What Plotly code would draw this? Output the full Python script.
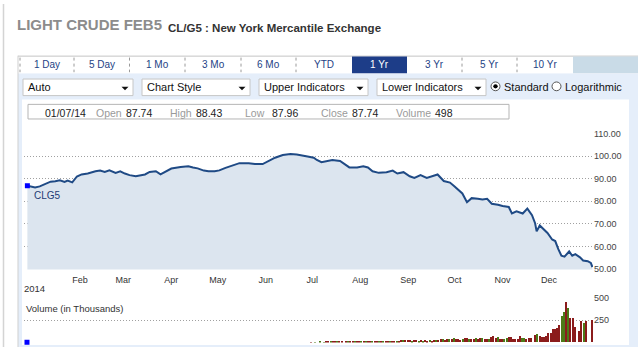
import plotly.graph_objects as go
import pandas as pd

# ---------------- data ----------------
# price series: day offset from 2014-01-01, settlement price
price_day = [-3, -1, 2, 5, 8, 12, 15, 18, 21, 23,
             26, 29, 32, 36, 41, 44, 47, 50, 54, 57,
             60, 63, 67, 70, 73, 76, 80, 83, 86, 90,
             96, 101, 104, 107, 111, 114, 118, 121, 125, 130,
             134, 140, 144, 149, 152, 157, 162, 167, 171, 174,
             178, 182, 184, 187, 191, 194, 199, 202, 205, 210,
             214, 217, 220, 224, 229, 233, 236, 240, 244, 247,
             251, 255, 258, 262, 266, 270, 273, 277, 278, 281,
             284, 288, 291, 294, 297, 301, 304, 308, 310, 313,
             317, 320, 323, 325, 326, 328, 331, 333, 336, 338,
             340, 342, 344, 347, 349, 351, 354, 356, 359, 361, 362]
price_val = [86.9, 86.5, 86.1, 86.6, 87.6, 88.7, 88.9, 89.3, 88.6, 89.2,
             88.4, 91.0, 91.9, 92.3, 93.3, 93.6, 93.0, 93.7, 92.6, 93.3,
             92.3, 91.6, 91.1, 91.6, 91.9, 93.0, 93.3, 91.9, 93.0, 94.5,
             95.2, 95.5, 95.0, 94.6, 93.6, 93.3, 93.3, 93.7, 94.8, 95.9,
             96.9, 96.9, 96.5, 96.5, 97.6, 99.3, 100.5, 100.9, 100.7, 100.2,
             99.8, 99.3, 98.3, 97.3, 97.9, 98.3, 97.9, 96.6, 95.0, 95.0,
             95.5, 95.0, 93.3, 92.6, 92.9, 93.6, 92.3, 92.9, 91.1, 90.4,
             91.6, 90.4, 91.1, 91.9, 89.0, 88.3, 86.6, 84.0, 83.5, 79.6,
             81.4, 81.1, 80.8, 81.1, 78.9, 78.5, 77.9, 77.5, 74.6, 75.6,
             74.6, 76.8, 73.9, 70.3, 66.7, 69.3, 67.4, 66.0, 63.1, 62.4,
             58.8, 55.9, 55.5, 57.8, 55.9, 56.6, 55.2, 53.8, 53.5, 52.7, 50.9]

# volume (thousands) by trading session, starting at session 128
vol_first_session = 128
vol_val = [0, 3, 0, 4, 0, 8, 0, 5, 14, 18,
           12, 16, 19, 13, 15, 6, 0, 10, 14, 12,
           9, 15, 8, 11, 6, 12, 16, 13, 18, 15,
           12, 17, 14, 18, 15, 20, 13, 17, 22, 16,
           19, 14, 26, 30, 24, 28, 31, 22, 27, 25,
           20, 24, 18, 23, 21, 26, 19, 24, 32, 28,
           45, 38, 30, 42, 35, 44, 48, 36, 40, 33,
           38, 52, 56, 40, 45, 35, 48, 42, 46, 50,
           38, 44, 40, 62, 70, 55, 66,
           38, 38, 38, 49, 61, 61, 38, 38, 38, 72,
           49, 49, 38, 49, 49, 0, 83, 95, 72, 61,
           61, 72, 106, 106, 152, 152, 163, 197, 300, 345,
           459, 390, 277, 277, 174, 0, 129, 242, 220, 242,
           0, 0, 254]
vol_dir = ("rrrgrgrgrr" "grrgrrgrgr" "rgrrgrgrrg" "rrgrgrrgrr"
           "grrgrrrgrr" "grgrrgrrgr" "rgrrgrgrrr" "grrgrrgrrg" "rrgrrrg"
           "rrggrrrrrr" "ggrrrrrgrr" "rrrrrrrrgg" "rgrrrrrrgr" "rrr")

month_ticks = ["2014-02-01", "2014-03-01", "2014-04-01", "2014-05-01", "2014-06-01",
               "2014-07-01", "2014-08-01", "2014-09-01", "2014-10-01", "2014-11-01",
               "2014-12-01"]
month_labels = ["Feb", "Mar", "Apr", "May", "Jun", "Jul", "Aug", "Sep", "Oct", "Nov", "Dec"]
price_ticks = [50, 60, 70, 80, 90, 100, 110]
vol_ticks = [0, 250, 500]
vol_tick_text = ["", "250", "500"]

tabs = ["1 Day", "5 Day", "1 Mo", "3 Mo", "6 Mo", "YTD", "1 Yr", "3 Yr", "5 Yr", "10 Yr"]
active_tab = "1 Yr"
dropdowns = ["Auto", "Chart Style", "Upper Indicators", "Lower Indicators"]
info_items = [("01/07/14", None), ("Open", "87.74"), ("High", "88.43"),
              ("Low", "87.96"), ("Close", "87.74"), ("Volume", "498")]

# ---------------- helpers (pixel -> paper) ----------------
W, H = 638, 352
FONT = "Liberation Sans, Arial, sans-serif"


def px(x):
    return x / W


def py(y):
    return 1 - y / H


shapes = []
annotations = []


def rect(x0, y0, x1, y1, fill, line=None, lw=1, layer="below"):
    shapes.append(dict(type="rect", xref="paper", yref="paper",
                       x0=px(x0), x1=px(x1), y0=py(y1), y1=py(y0),
                       fillcolor=fill, layer=layer,
                       line=dict(color=line if line else "rgba(0,0,0,0)", width=lw if line else 0)))


def hline(x0, x1, y, color, lw=1, dash="solid", layer="below"):
    shapes.append(dict(type="line", xref="paper", yref="paper",
                       x0=px(x0), x1=px(x1), y0=py(y), y1=py(y),
                       line=dict(color=color, width=lw, dash=dash), layer=layer))


def vline(x, y0, y1, color, lw=1, dash="solid", layer="below"):
    shapes.append(dict(type="line", xref="paper", yref="paper",
                       x0=px(x), x1=px(x), y0=py(y0), y1=py(y1),
                       line=dict(color=color, width=lw, dash=dash), layer=layer))


def text(x, y, s, size=11, color="#222", anchor="left", bold=False, family=FONT):
    annotations.append(dict(xref="paper", yref="paper", x=px(x), y=py(y),
                            text=("<b>%s</b>" % s) if bold else s,
                            showarrow=False, xanchor=anchor, yanchor="middle",
                            font=dict(size=size, color=color, family=family),
                            borderpad=0))


# page frame
vline(3.5, 0, 352, "#d4d4d4", 1.5)
# title
text(16, 21, "LIGHT CRUDE FEB5", 15, "#8c8c8c", bold=True)
text(167, 24.5, "CL/G5 : New York Mercantile Exchange", 11.5, "#333333", bold=True)

# panel
rect(18, 71, 638, 352, "#e5eefa")
rect(18, 53, 638, 71, "#ffffff")
hline(18, 638, 53.5, "#c4c4c4")
vline(18, 53, 352, "#cfcfcf")
tab_edges = [20, 74, 129.5, 185, 241, 296, 352, 407, 462, 517, 573]
for i, lab in enumerate(tabs):
    x0, x1 = tab_edges[i], tab_edges[i + 1]
    if lab == active_tab:
        rect(x0, 54, x1, 71, "#1d3d88")
        text((x0 + x1) / 2, 62, lab, 10, "#ffffff", anchor="center")
    else:
        text((x0 + x1) / 2, 62, lab, 10, "#243f85", anchor="center")
for xe in [20, 74, 129.5, 185, 241, 296, 462, 517]:
    vline(xe, 55, 70, "#9a9a9a", 1, "dot")
rect(573, 54, 638, 71, "#c9dbe7")

# dropdowns
dd_boxes = [(23, 133), (142, 250), (259, 368), (377, 486)]
dd_arrow = [125, 242, 360, 478]
for (x0, x1), ax, lab in zip(dd_boxes, dd_arrow, dropdowns):
    rect(x0, 77, x1, 94, "#ffffff", "#c6c6c6")
    text(x0 + 4, 85.5, lab, 11, "#111111")
    shapes.append(dict(type="path", xref="paper", yref="paper",
                       path="M %f %f L %f %f L %f %f Z" % (px(ax - 3.5), py(85), px(ax + 3.5), py(85), px(ax), py(88.5)),
                       fillcolor="#111111", line=dict(width=0), layer="above"))
# radio buttons
shapes.append(dict(type="circle", xref="paper", yref="paper", x0=px(491), x1=px(500), y0=py(89), y1=py(80),
                   fillcolor="#ffffff", line=dict(color="#555555", width=1)))
shapes.append(dict(type="circle", xref="paper", yref="paper", x0=px(493.3), x1=px(497.7), y0=py(86.7), y1=py(82.3),
                   fillcolor="#000000", line=dict(width=0)))
shapes.append(dict(type="circle", xref="paper", yref="paper", x0=px(552), x1=px(561), y0=py(89), y1=py(80),
                   fillcolor="#ffffff", line=dict(color="#555555", width=1)))
text(503, 85, "Standard", 11, "#111111")
text(564, 85, "Logarithmic", 11, "#111111")

# inner white area and info box
rect(22, 98, 629, 350, "#ffffff")
rect(28, 103, 509, 118, "#ffffff", "#b5b5b5")
info_x = [(44, None), (94.5, 125), (169, 195), (244.5, 271), (319.5, 351), (395, 434)]
for (lab, val), (xl, xv) in zip(info_items, info_x):
    if val is None:
        text(xl, 111.5, lab, 10.5, "#222222")
    else:
        text(xl, 111.5, lab, 10.5, "#9a9a9a")
        text(xv, 111.5, val, 10.5, "#222222")

text(33, 196.5, "CLG5", 10, "#1f3c74")
text(23, 292, "2014", 9.5, "#333333")
text(25, 312, "Volume (in Thousands)", 9.5, "#333333")

# ---------------- traces ----------------
dates = pd.Timestamp("2014-01-01") + pd.to_timedelta(price_day, unit="D")
vol_x = list(range(vol_first_session, vol_first_session + len(vol_val)))
vol_colors = ["#8b1c1c" if c == "r" else "#4c7a18" for c in vol_dir]

fig = go.Figure()
fig.add_trace(go.Scatter(x=dates, y=price_val, mode="lines", fill="tozeroy",
                         fillcolor="#dce5ef", line=dict(color="#1f4a85", width=2),
                         xaxis="x", yaxis="y", hoverinfo="skip"))
fig.add_trace(go.Scatter(x=[dates[0]], y=[price_val[0]], mode="markers",
                         marker=dict(symbol="square", size=5, color="#0000ff"),
                         cliponaxis=False, xaxis="x", yaxis="y", hoverinfo="skip"))
fig.add_trace(go.Bar(x=vol_x, y=vol_val, marker=dict(color=vol_colors, line=dict(width=0)),
                     width=0.45, xaxis="x2", yaxis="y2", hoverinfo="skip"))
fig.add_trace(go.Scatter(x=[0], y=[0], mode="markers",
                         marker=dict(symbol="square", size=5, color="#0000ff"),
                         cliponaxis=False, xaxis="x2", yaxis="y2", hoverinfo="skip"))

grid = dict(showgrid=True, gridcolor="#a0a0a0", griddash="1px,2px", gridwidth=1,
            zeroline=False, showline=False, ticks="")
fig.update_layout(
    width=W, height=H, margin=dict(l=0, r=0, t=0, b=0),
    paper_bgcolor="#ffffff", plot_bgcolor="rgba(0,0,0,0)",
    showlegend=False, hovermode=False, bargap=0,
    font=dict(family=FONT, size=9, color="#333333"),
    xaxis=dict(domain=[px(24), px(593)], type="date", anchor="y",
               range=["2013-12-26 19:40", "2014-12-29 09:40"],
               tickvals=month_ticks, ticktext=month_labels,
               showgrid=False, zeroline=False, showline=False, ticks="",
               ticklabelstandoff=3,
               tickfont=dict(size=9, color="#333333")),
    yaxis=dict(domain=[py(272.5), py(132.5)], range=[49.8, 110.2], side="right", anchor="x",
               tickvals=price_ticks, tickformat=".2f",
               tickfont=dict(size=9, color="#444444"), **grid),
    xaxis2=dict(domain=[px(24), px(593)], anchor="y2", range=[-1.36, 257.3],
                showticklabels=False, showgrid=False, zeroline=False, showline=False, ticks=""),
    yaxis2=dict(domain=[py(347.5), py(301.5)], range=[-4, 504], side="right", anchor="x2",
                tickvals=vol_ticks, ticktext=vol_tick_text,
                tickfont=dict(size=9, color="#444444"), **grid),
    shapes=shapes, annotations=annotations,
)

fig.write_html("out.html")
